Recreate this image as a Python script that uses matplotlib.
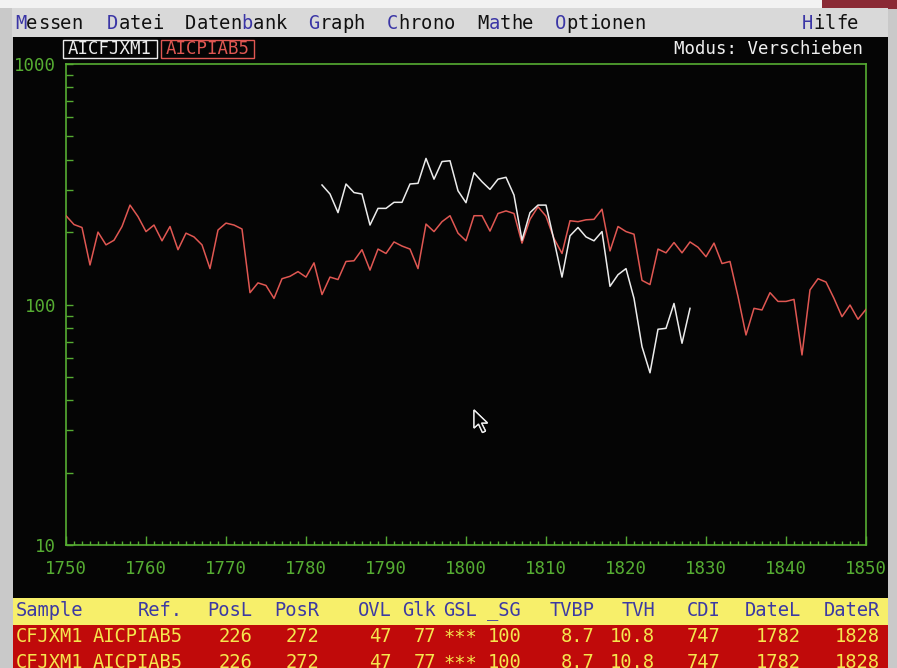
import numpy as np
import matplotlib
matplotlib.use('Agg')
import matplotlib.pyplot as plt
from matplotlib.patches import Rectangle, Polygon
from matplotlib.ticker import FixedLocator, NullFormatter, FixedFormatter, LogLocator

W, H = 897, 668

# ---------------- data ----------------
red_years = list(range(1750, 1851))
red_values = [234, 215, 209, 146, 200, 177, 185, 211, 259, 232,
              201, 214, 184, 211, 169, 198, 191, 177, 141, 204,
              218, 214, 206, 112, 123, 120, 106, 128, 131, 137,
              130, 149, 110, 130, 127, 151, 152, 169, 139, 170,
              163, 182, 175, 170, 141, 216, 201, 221, 234, 198,
              184, 234, 234, 202, 239, 245, 239, 180, 226, 255,
              233, 188, 163, 223, 221, 225, 226, 249, 167, 211,
              201, 196, 126, 121, 170, 164, 181, 164, 182, 173,
              158, 180, 148, 151, 108, 74.7, 96.4, 94.9, 112, 103,
              103, 105, 61.7, 115, 128, 124, 106, 89, 99.5, 86.8,
              95.5]
white_years = list(range(1782, 1829))
white_values = [314, 288, 241, 317, 292, 288, 214, 251, 251, 266,
                266, 317, 319, 405, 332, 393, 396, 297, 265, 353,
                324, 301, 332, 338, 285, 185, 241, 259, 259, 185,
                130, 193, 209, 191, 184, 201, 119, 133, 141, 106,
                66.8, 52, 78.9, 79.6, 101, 69, 96.4]

x_ticks = [1750, 1760, 1770, 1780, 1790, 1800, 1810, 1820, 1830, 1840, 1850]
y_ticks = [10, 100, 1000]
y_tick_labels = ['10', '100', '1000']

series_names = ['AICFJXM1', 'AICPIAB5']
mode_text = 'Modus: Verschieben'

menu_items = ['Messen', 'Datei', 'Datenbank', 'Graph', 'Chrono', 'Mathe', 'Optionen', 'Hilfe']
menu_hotkey = [0, 0, 5, 0, 0, 1, 0, 0]
menu_x = [15, 107, 185, 308, 387, 477, 555, 802]

table_headers = ['Sample', 'Ref.', 'PosL', 'PosR', 'OVL', 'Glk', 'GSL', '_SG',
                 'TVBP', 'TVH', 'CDI', 'DateL', 'DateR']
table_row = ['CFJXM1', 'AICPIAB5', '226', '272', '47', '77', '***', '100',
             '8.7', '10.8', '747', '1782', '1828']
col_x = [16, 183, 252, 319, 392, 436, 443, 521, 595, 655, 720, 801, 880]
col_ha = ['left', 'right', 'right', 'right', 'right', 'right', 'left', 'right',
          'right', 'right', 'right', 'right', 'right']

# ---------------- colours ----------------
GREEN = '#56ad32'
RED_LINE = '#e05752'
WHITE_LINE = '#ececec'
BLACK = '#050505'
MENU_BG = '#d9d9d9'
BORDER = '#c9c9c9'
HOT = '#3b36a6'
YELLOW_BG = '#f7ef6a'
HEAD_TXT = '#3d3aa3'
ROW_BG = '#c00a0a'
ROW_TXT = '#f5e64e'
MONO = 'DejaVu Sans Mono'

fig = plt.figure(figsize=(W / 100, H / 100), dpi=100, facecolor=BORDER)

bg = fig.add_axes([0, 0, 1, 1])
bg.set_xlim(0, W)
bg.set_ylim(H, 0)
bg.axis('off')

def rect(x0, y0, x1, y1, fc, ec='none', lw=0, z=1):
    bg.add_patch(Rectangle((x0, y0), x1 - x0, y1 - y0, facecolor=fc,
                           edgecolor=ec, linewidth=lw, zorder=z))

rect(0, 0, W, 8, '#f2f2f2')
rect(822, 0, W, 9, '#8a2a35')
rect(12, 8, 888, 37, MENU_BG)
rect(13, 37, 888, 598, BLACK)
rect(13, 598, 888, 625, YELLOW_BG)
rect(13, 625, 888, H, ROW_BG)

# menu bar
pitch = 11.3
for word, hk, x0 in zip(menu_items, menu_hotkey, menu_x):
    for i, ch in enumerate(word):
        bg.text(x0 + i * pitch, 23.5, ch, family=MONO, fontsize=13.5,
                color=HOT if i == hk else '#111111', ha='left', va='center', zorder=5)

# series labels
label_boxes = [(63, 157, WHITE_LINE), (161, 254, RED_LINE)]
for name, (x0, x1, c) in zip(series_names, label_boxes):
    rect(x0, 40, x1, 58, 'none', ec=c, lw=1.0, z=4)
    bg.text((x0 + x1) / 2, 49.5, name, family=MONO, fontsize=12.5, color=c,
            ha='center', va='center', zorder=5)
bg.text(863, 49.5, mode_text, family=MONO, fontsize=12.5, color='#f0f0f0',
        ha='right', va='center', zorder=5)

# table
for h, x, ha in zip(table_headers, col_x, col_ha):
    bg.text(x, 611, h, family=MONO, fontsize=13.5, color=HEAD_TXT, ha=ha,
            va='center', zorder=5)
for yrow in (637, 663):
    for v, x, ha in zip(table_row, col_x, col_ha):
        bg.text(x, yrow, v, family=MONO, fontsize=13.5, color=ROW_TXT, ha=ha,
                va='center', zorder=5)

# ---------------- plot axes ----------------
ax = fig.add_axes([66 / W, 1 - 545 / H, 800 / W, 481 / H])
ax.set_facecolor(BLACK)
ax.patch.set_alpha(0)
ax.set_yscale('log')
ax.set_xlim(1750, 1850)
ax.set_ylim(10, 1000)

ax.plot(red_years, red_values, color=RED_LINE, lw=1.1, zorder=3)
ax.plot(white_years, white_values, color=WHITE_LINE, lw=1.1, zorder=4)

for s in ax.spines.values():
    s.set_color(GREEN)
    s.set_linewidth(1.2)

ax.xaxis.set_major_locator(FixedLocator(x_ticks))
ax.xaxis.set_major_formatter(FixedFormatter([str(t) for t in x_ticks]))
ax.xaxis.set_minor_locator(FixedLocator(red_years))
ax.yaxis.set_major_locator(FixedLocator(y_ticks))
ax.yaxis.set_major_formatter(FixedFormatter(y_tick_labels))
ax.yaxis.set_minor_locator(LogLocator(base=10, subs=np.arange(2, 10)))
ax.yaxis.set_minor_formatter(NullFormatter())

ax.tick_params(axis='x', which='major', direction='in', length=6.5, width=1.0,
               color=GREEN, labelcolor=GREEN, pad=11, labelsize=12.5)
ax.tick_params(axis='x', which='minor', direction='in', length=3.2, width=1.0,
               color=GREEN)
ax.tick_params(axis='y', which='both', direction='in', length=5, width=1.0,
               color=GREEN, labelcolor=GREEN, pad=7, labelsize=12.5)
for lab in ax.get_xticklabels() + ax.get_yticklabels():
    lab.set_family(MONO)

# mouse cursor
cursor = [(474, 410), (474, 428), (478.5, 424), (482.5, 432.5), (485.5, 431),
          (481.5, 423), (487.5, 423)]
bg.add_patch(Polygon(cursor, closed=True, facecolor=BLACK, edgecolor='#f0f0f0',
                     linewidth=1.0, zorder=6))
bg.set_zorder(0)
ax.set_zorder(1)
# cursor over plot: redraw on a top overlay
top = fig.add_axes([0, 0, 1, 1])
top.set_xlim(0, W)
top.set_ylim(H, 0)
top.axis('off')
top.set_zorder(2)
top.add_patch(Polygon(cursor, closed=True, facecolor=BLACK, edgecolor='#f0f0f0',
                      linewidth=1.0))

fig.savefig('out.png', dpi=100, facecolor=BORDER)
